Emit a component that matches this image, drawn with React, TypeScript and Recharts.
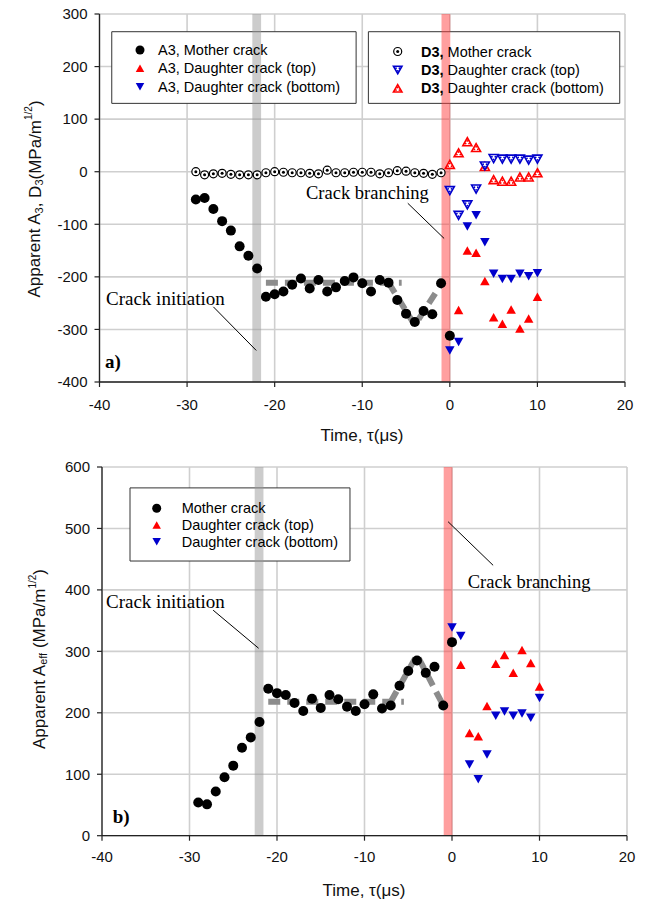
import React from 'react';
import {
  ComposedChart,
  Scatter,
  Line,
  XAxis,
  YAxis,
  CartesianGrid,
  ReferenceArea,
  ReferenceLine,
} from 'recharts';

// ---------------- Panel a) data ----------------
const tauMother = [-29, -28, -27, -26, -25, -24, -23, -22, -21, -20, -19, -18, -17, -16, -15, -14, -13, -12, -11, -10, -9, -8, -7, -6, -5, -4, -3, -2, -1, 0];
const a3Mother = [-53, -50, -71, -94, -112, -142, -160, -184, -238, -233, -228, -215, -203, -222, -206, -228, -220, -208, -201, -212, -228, -206, -211, -244, -270, -286, -265, -271, -212, -312];
const tauD3Mother = [-29, -28, -27, -26, -25, -24, -23, -22, -21, -20, -19, -18, -17, -16, -15, -14, -13, -12, -11, -10, -9, -8, -7, -6, -5, -4, -3, -2, -1];
const d3Mother = [0, -6, -4, -3, -5, -6, -6, -6, -2, 0, -1, -2, -2, -3, -4, 3, -2, -2, -1, -1, -1, -4, -2, 2, 1, -2, -3, -5, -2];
const tauDaughterTop = [1, 2, 3, 4, 5, 6, 7, 8, 9, 10];
const tauDaughter = [0, 1, 2, 3, 4, 5, 6, 7, 8, 9, 10];
const a3DaughterTop = [-263, -150, -154, -208, -277, -289, -262, -298, -279, -238];
const a3DaughterBottom = [-340, -324, -104, -83, -134, -194, -204, -204, -194, -199, -193];
const d3DaughterTop = [-36, -83, -63, -33, 11, 25, 24, 24, 24, 22, 24];
const d3DaughterBottom = [14, 36, 57, 46, 10, -15, -18, -18, -10, -10, -2];
const trendFlatTau = [-21, -5.5];
const trendPeakTau = [-7, -4, -1];
const a3TrendFlat = [-211, -211];
const a3TrendPeak = [-211, -292, -214];

// ---------------- Panel b) data ----------------
const aeffMother = [54, 51, 72, 95, 114, 143, 160, 185, 239, 232, 229, 216, 203, 223, 208, 229, 222, 210, 203, 214, 230, 207, 212, 244, 268, 285, 265, 275, 212, 315];
const aeffDaughterTop = [278, 167, 162, 211, 280, 294, 265, 302, 281, 243];
const aeffDaughterBottom = [339, 325, 116, 92, 132, 195, 202, 195, 199, 192, 224];
const aeffTrendFlat = [218, 218];
const aeffTrendPeak = [218, 294, 212];

// ---------------- axes / events ----------------
const xTicks = [-40, -30, -20, -10, 0, 10, 20];
const yTicksA = [-400, -300, -200, -100, 0, 100, 200, 300];
const yTicksB = [0, 100, 200, 300, 400, 500, 600];
const initiationBand = [-22.55, -21.55];
const branchingBand = [-0.95, 0.05];

const RED = '#ff0000';
const BLUE = '#0000cc';
const SANS = '"Liberation Sans", Arial, sans-serif';
const SERIF = '"Liberation Serif", "Times New Roman", serif';

const pts = (xs: number[], ys: number[]) => xs.map((x, i) => ({ x, y: ys[i] }));

// ---------------- marker shapes ----------------
const DotShape = (p: any) => <circle cx={p.cx} cy={p.cy} r={5} fill="#000" />;
const RingShape = (p: any) => (
  <g>
    <circle cx={p.cx} cy={p.cy} r={4} fill="#fff" stroke="#000" strokeWidth={1.2} />
    <circle cx={p.cx} cy={p.cy} r={1.5} fill="#000" />
  </g>
);
const triPoints = (cx: number, cy: number, w: number, h: number, up: boolean) =>
  up
    ? `${cx},${cy - h / 2} ${cx + w / 2},${cy + h / 2} ${cx - w / 2},${cy + h / 2}`
    : `${cx},${cy + h / 2} ${cx + w / 2},${cy - h / 2} ${cx - w / 2},${cy - h / 2}`;
const FilledTri = (color: string, up: boolean, w = 9.5, h = 8.5) => (p: any) => (
  <polygon points={triPoints(p.cx, p.cy, w, h, up)} fill={color} />
);
const OpenTri = (color: string, up: boolean, w = 9, h = 8) => (p: any) => {
  const s = up ? 1 : -1;
  return (
    <g>
      <polygon points={triPoints(p.cx, p.cy, w, h, up)} fill="#fff" stroke={color} strokeWidth={1.6} strokeLinejoin="miter" />
      <circle cx={p.cx} cy={p.cy - s * 0.8} r={0.9} fill={color} />
      <circle cx={p.cx - 1.7} cy={p.cy + s * 1.8} r={0.9} fill={color} />
      <circle cx={p.cx + 1.7} cy={p.cy + s * 1.8} r={0.9} fill={color} />
    </g>
  );
};

const axisCommon = {
  stroke: '#222',
  tickSize: 5,
  tickLine: { stroke: '#222', strokeWidth: 1.2 },
  axisLine: { stroke: '#222', strokeWidth: 1.3 },
  tick: { fill: '#111', fontSize: 15, fontFamily: SANS },
};

const trendStyle = {
  stroke: '#8c8c8c',
  strokeWidth: 6,
  strokeDasharray: '12 7',
  dot: false,
  activeDot: false,
  isAnimationActive: false,
  type: 'linear' as const,
  dataKey: 'y',
};

function PanelA() {
  return (
    <ComposedChart width={645} height={450} margin={{ top: 14, right: 20, bottom: 28, left: 39.5 }}>
      <CartesianGrid stroke="#cfcfcf" strokeWidth={1.6} />
      <XAxis type="number" dataKey="x" domain={[-40, 20]} ticks={xTicks} allowDataOverflow height={40} tickMargin={12} {...axisCommon} />
      <YAxis type="number" dataKey="y" domain={[-400, 300]} ticks={yTicksA} allowDataOverflow width={60} tickMargin={7} {...axisCommon} />
      <ReferenceArea x1={-38.6} x2={-10.7} y1={130} y2={266.3} fill="#fff" fillOpacity={1} stroke="#333" strokeWidth={1} />
      <ReferenceArea x1={-9.3} x2={19.4} y1={130} y2={266.3} fill="#fff" fillOpacity={1} stroke="#333" strokeWidth={1} />
      <Line data={pts(trendFlatTau, a3TrendFlat)} {...trendStyle} />
      <Line data={pts(trendPeakTau, a3TrendPeak)} {...trendStyle} />
      <Scatter data={pts(tauD3Mother, d3Mother)} dataKey="y" shape={RingShape} isAnimationActive={false} />
      <Scatter data={pts(tauMother, a3Mother)} dataKey="y" shape={DotShape} isAnimationActive={false} />
      <Scatter data={pts(tauDaughter, d3DaughterBottom)} dataKey="y" shape={OpenTri(RED, true)} isAnimationActive={false} />
      <Scatter data={pts(tauDaughter, d3DaughterTop)} dataKey="y" shape={OpenTri(BLUE, false)} isAnimationActive={false} />
      <Scatter data={pts(tauDaughterTop, a3DaughterTop)} dataKey="y" shape={FilledTri(RED, true)} isAnimationActive={false} />
      <Scatter data={pts(tauDaughter, a3DaughterBottom)} dataKey="y" shape={FilledTri(BLUE, false)} isAnimationActive={false} />
      <ReferenceArea x1={initiationBand[0]} x2={initiationBand[1]} fill="#9a9a9a" fillOpacity={0.5} stroke="none" />
      <ReferenceArea x1={branchingBand[0]} x2={branchingBand[1]} fill="#ff4040" fillOpacity={0.5} stroke="none" />
      <ReferenceLine segment={[{ x: -27.0, y: -257 }, { x: -22.1, y: -340 }]} stroke="#000" strokeWidth={1} />
      <ReferenceLine segment={[{ x: -4.8, y: -60 }, { x: -0.65, y: -127 }]} stroke="#000" strokeWidth={1} />
    </ComposedChart>
  );
}

function PanelB() {
  return (
    <ComposedChart width={645} height={451} margin={{ top: 17, right: 18, bottom: 25.3, left: 42 }}>
      <CartesianGrid stroke="#cfcfcf" strokeWidth={1.6} />
      <XAxis type="number" dataKey="x" domain={[-40, 20]} ticks={xTicks} allowDataOverflow height={40} tickMargin={11} {...axisCommon} />
      <YAxis type="number" dataKey="y" domain={[0, 600]} ticks={yTicksB} allowDataOverflow width={60} tickMargin={7} {...axisCommon} />
      <ReferenceArea x1={-36.8} x2={-11.66} y1={447} y2={566} fill="#fff" fillOpacity={1} stroke="#333" strokeWidth={1} />
      <Line data={pts(trendFlatTau, aeffTrendFlat)} {...trendStyle} />
      <Line data={pts(trendPeakTau, aeffTrendPeak)} {...trendStyle} />
      <Scatter data={pts(tauMother, aeffMother)} dataKey="y" shape={DotShape} isAnimationActive={false} />
      <Scatter data={pts(tauDaughterTop, aeffDaughterTop)} dataKey="y" shape={FilledTri(RED, true)} isAnimationActive={false} />
      <Scatter data={pts(tauDaughter, aeffDaughterBottom)} dataKey="y" shape={FilledTri(BLUE, false)} isAnimationActive={false} />
      <ReferenceArea x1={initiationBand[0]} x2={initiationBand[1]} fill="#9a9a9a" fillOpacity={0.5} stroke="none" />
      <ReferenceArea x1={branchingBand[0]} x2={branchingBand[1]} fill="#ff4040" fillOpacity={0.5} stroke="none" />
      <ReferenceLine segment={[{ x: -27.3, y: 367 }, { x: -22.1, y: 305 }]} stroke="#000" strokeWidth={1} />
      <ReferenceLine segment={[{ x: -0.45, y: 511 }, { x: 4.7, y: 440 }]} stroke="#000" strokeWidth={1} />
    </ComposedChart>
  );
}

const legendText = { fontFamily: SANS, fontSize: 14.5, fill: '#000', dominantBaseline: 'central' as const };

function Overlay() {
  return (
    <svg width={645} height={901} style={{ position: 'absolute', left: 0, top: 0, pointerEvents: 'none' }}>
      {/* axis titles */}
      <text transform="translate(34.5,199) rotate(-90)" textAnchor="middle" dominantBaseline="central" fontFamily={SANS} fontSize={17} fill="#111">
        Apparent A<tspan fontSize={11} dy={4}>3</tspan>
        <tspan dy={-4}>, D</tspan>
        <tspan fontSize={11} dy={4}>3</tspan>
        <tspan dy={-4}>(MPa/m</tspan>
        <tspan fontSize={10} dy={-7}>1/2</tspan>
        <tspan dy={7}>)</tspan>
      </text>
      <text x={362} y={435} textAnchor="middle" dominantBaseline="central" fontFamily={SANS} fontSize={17} fill="#111">Time, τ(μs)</text>
      <text transform="translate(39,659) rotate(-90)" textAnchor="middle" dominantBaseline="central" fontFamily={SANS} fontSize={17} fill="#111">
        Apparent A<tspan fontSize={11} dy={4}>eff</tspan>
        <tspan dy={-4}> (MPa/m</tspan>
        <tspan fontSize={10} dy={-7}>1/2</tspan>
        <tspan dy={7}>)</tspan>
      </text>
      <text x={364} y={890} textAnchor="middle" dominantBaseline="central" fontFamily={SANS} fontSize={17} fill="#111">Time, τ(μs)</text>

      {/* legend a) left */}
      <circle cx={140} cy={50} r={4.5} fill="#000" />
      <polygon points={triPoints(140, 68.3, 8.5, 7.5, true)} fill={RED} />
      <polygon points={triPoints(140, 86.7, 8.5, 7.5, false)} fill={BLUE} />
      <text x={158} y={50} {...legendText}>A3, Mother crack</text>
      <text x={158} y={68.3} {...legendText}>A3, Daughter crack (top)</text>
      <text x={158} y={86.7} {...legendText}>A3, Daughter crack (bottom)</text>

      {/* legend a) right */}
      <circle cx={397.7} cy={51.5} r={4} fill="#fff" stroke="#000" strokeWidth={1.2} />
      <circle cx={397.7} cy={51.5} r={1.5} fill="#000" />
      {OpenTri(BLUE, false, 8.5, 7.5)({ cx: 397.7, cy: 70 })}
      {OpenTri(RED, true, 8.5, 7.5)({ cx: 397.7, cy: 88.3 })}
      <text x={421} y={51.5} {...legendText}><tspan fontWeight="bold">D3,</tspan> Mother crack</text>
      <text x={421} y={70} {...legendText}><tspan fontWeight="bold">D3,</tspan> Daughter crack (top)</text>
      <text x={421} y={88.3} {...legendText}><tspan fontWeight="bold">D3,</tspan> Daughter crack (bottom)</text>

      {/* legend b) */}
      <circle cx={156.7} cy={508.3} r={4.5} fill="#000" />
      <polygon points={triPoints(156.7, 525, 8.5, 7.5, true)} fill={RED} />
      <polygon points={triPoints(156.7, 541.7, 8.5, 7.5, false)} fill={BLUE} />
      <text x={181.7} y={508.3} {...legendText}>Mother crack</text>
      <text x={181.7} y={525} {...legendText}>Daughter crack (top)</text>
      <text x={181.7} y={541.7} {...legendText}>Daughter crack (bottom)</text>

      {/* annotations */}
      <text x={106} y={298.3} dominantBaseline="central" fontFamily={SERIF} fontSize={19} fill="#000">Crack initiation</text>
      <text x={306} y={193.3} dominantBaseline="central" fontFamily={SERIF} fontSize={18.5} fill="#000">Crack branching</text>
      <text x={106} y={601} dominantBaseline="central" fontFamily={SERIF} fontSize={19} fill="#000">Crack initiation</text>
      <text x={467.7} y={582.3} dominantBaseline="central" fontFamily={SERIF} fontSize={18.5} fill="#000">Crack branching</text>
      <text x={105} y={361} dominantBaseline="central" fontFamily={SERIF} fontSize={19} fontWeight="bold" fill="#000">a)</text>
      <text x={112.7} y={816.7} dominantBaseline="central" fontFamily={SERIF} fontSize={19} fontWeight="bold" fill="#000">b)</text>
    </svg>
  );
}

export default function App() {
  return (
    <div style={{ position: 'absolute', left: 0, top: 0, width: 645, height: 901, background: '#fff', fontFamily: SANS }}>
      <div style={{ position: 'absolute', left: 0, top: 0 }}>
        <PanelA />
      </div>
      <div style={{ position: 'absolute', left: 0, top: 450 }}>
        <PanelB />
      </div>
      <Overlay />
    </div>
  );
}
